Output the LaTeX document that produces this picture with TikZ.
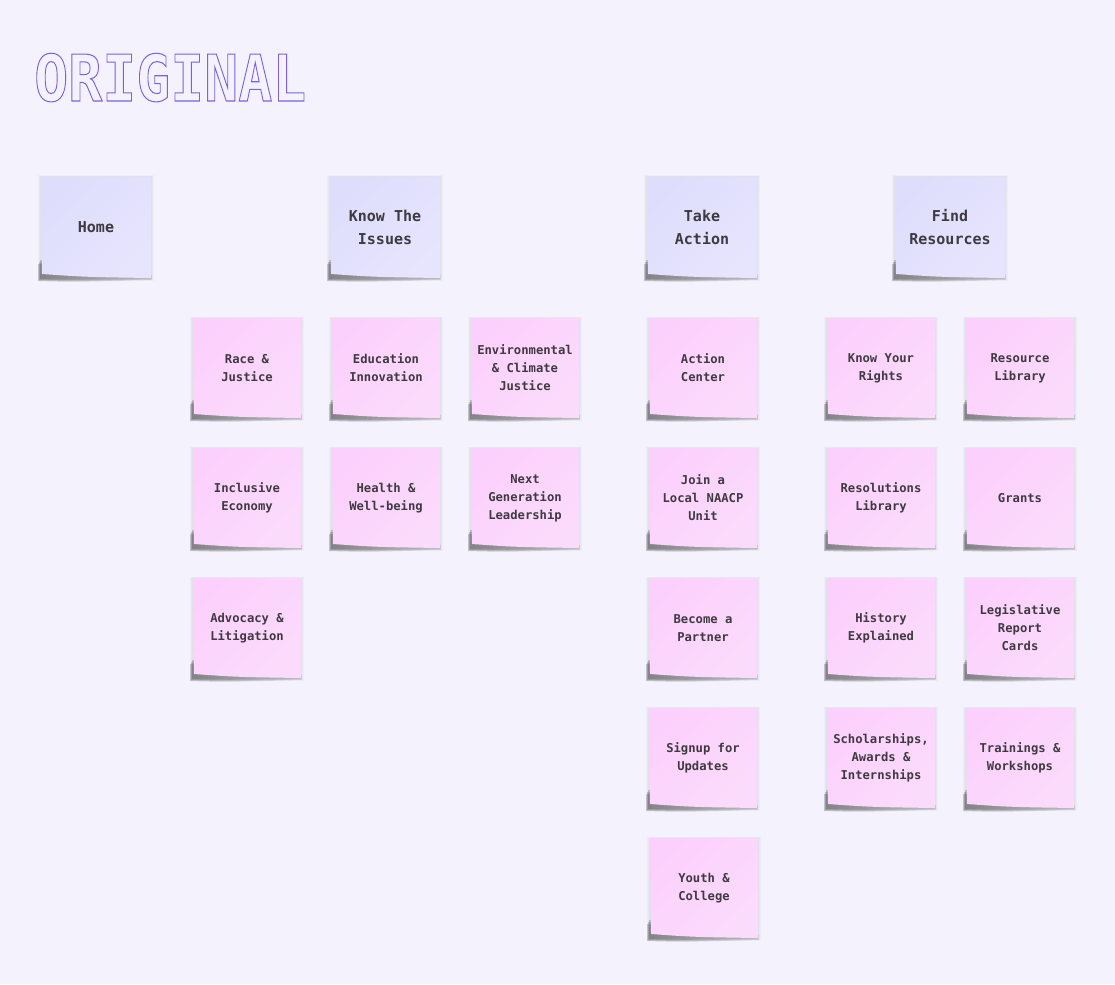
\documentclass[tikz,border=0pt]{standalone}
\usepackage{fontspec}
\usepackage{graphicx}
\setmonofont{DejaVu Sans Mono}
\newfontfamily\notefont{DejaVu Sans Mono}[Scale=1]
\definecolor{bgc}{HTML}{F4F2FD}
\definecolor{headfill}{HTML}{DEDDFC}
\definecolor{headfillB}{HTML}{E7E5FD}
\definecolor{pinkfill}{HTML}{FCD0FC}
\definecolor{pinkfillB}{HTML}{FBDBFC}
\definecolor{txt}{HTML}{3E3A40}
\definecolor{titlec}{HTML}{7E5FE0}
\tikzset{
  headtext/.style={font=\notefont\bfseries\fontsize{15}{23}\selectfont, text=txt, align=center, inner sep=0pt},
  pinktext/.style={font=\notefont\bfseries\fontsize{12.2}{18}\selectfont, text=txt, align=center, inner sep=0pt},
  headpaper/.style={left color=headfill, right color=headfillB, shading angle=45},
  pinkpaper/.style={left color=pinkfill, right color=pinkfillB, shading angle=45},
}
\newcommand\outlinetext[1]{\special{pdf:literal direct 1 Tr 0.9 w 0.494 0.373 0.878 RG}#1\special{pdf:literal direct 0 Tr}}
% #1 name, #2 x, #3 y, #4 w, #5 h, #6 paper style, #7 text style, #8 text
\newcommand\sticky[8]{%
  \foreach \gg in {1,2,3}{\fill[black, opacity=0.025] (#2-\gg,#3-\gg*0.5) rectangle (#2+#4+\gg,#3+#5+\gg);}
  \foreach \dd in {0,1,2}{%
  \shade[left color=black!75, right color=black!35, opacity=0.25]
     (#2-1-\dd,#3+#5-18+\dd*2) -- (#2-1-\dd,#3+#5+1+\dd) .. controls (#2+#4*0.3,#3+#5+2+\dd) .. (#2+#4+\dd*0.5,#3+#5+1+\dd*0.5)
     -- (#2+#4+\dd*0.5,#3+#5-3) -- cycle;}
  \path[#6] (#2,#3) -- (#2+#4,#3) -- (#2+#4,#3+#5) .. controls (#2+#4*0.4,#3+#5-1) .. (#2+1,#3+#5-4) -- cycle;
  \node[#7, minimum width=#4, minimum height=#5] (#1) at (#2+#4/2,#3+#5/2) {#8};
}
\begin{document}
\begin{tikzpicture}[x=1pt,y=-1pt]
\fill[bgc] (0,0) rectangle (1115,984);
\useasboundingbox (0,0) rectangle (1115,984);
% title
\node[anchor=base west, inner sep=0pt, text=titlec] (title) at (34,101)
  {\scalebox{1}[1.14]{\fontsize{56.5}{60}\selectfont\ttfamily\bfseries\outlinetext{ORIGINAL}}};
% headers
\sticky{home}{41}{177}{110}{101}{headpaper}{headtext}{Home}
\sticky{issues}{330}{177}{110}{101}{headpaper}{headtext}{Know The\\Issues}
\sticky{action}{647}{177}{110}{101}{headpaper}{headtext}{Take\\Action}
\sticky{resources}{895}{177}{110}{101}{headpaper}{headtext}{Find\\Resources}
% know the issues
\sticky{race}{193}{318}{108}{100}{pinkpaper}{pinktext}{Race \&\\Justice}
\sticky{edu}{332}{318}{108}{100}{pinkpaper}{pinktext}{Education\\Innovation}
\sticky{env}{471}{318}{108}{100}{pinkpaper}{pinktext}{Environmental\\\& Climate\\Justice}
\sticky{econ}{193}{448}{108}{100}{pinkpaper}{pinktext}{Inclusive\\Economy}
\sticky{health}{332}{448}{108}{100}{pinkpaper}{pinktext}{Health \&\\Well-being}
\sticky{nextgen}{471}{448}{108}{100}{pinkpaper}{pinktext}{Next\\Generation\\Leadership}
\sticky{advocacy}{193}{578}{108}{100}{pinkpaper}{pinktext}{Advocacy \&\\Litigation}
% take action
\sticky{center}{649}{318}{108}{100}{pinkpaper}{pinktext}{Action\\Center}
\sticky{join}{649}{448}{108}{100}{pinkpaper}{pinktext}{Join a\\Local NAACP\\Unit}
\sticky{partner}{649}{578}{108}{100}{pinkpaper}{pinktext}{Become a\\Partner}
\sticky{signup}{649}{708}{108}{100}{pinkpaper}{pinktext}{Signup for\\Updates}
\sticky{youth}{650}{838}{108}{100}{pinkpaper}{pinktext}{Youth \&\\College}
% find resources
\sticky{rights}{827}{318}{108}{100}{pinkpaper}{pinktext}{Know Your\\Rights}
\sticky{library}{966}{318}{108}{100}{pinkpaper}{pinktext}{Resource\\Library}
\sticky{resol}{827}{448}{108}{100}{pinkpaper}{pinktext}{Resolutions\\Library}
\sticky{grants}{966}{448}{108}{100}{pinkpaper}{pinktext}{Grants}
\sticky{history}{827}{578}{108}{100}{pinkpaper}{pinktext}{History\\Explained}
\sticky{legis}{966}{578}{108}{100}{pinkpaper}{pinktext}{Legislative\\Report\\Cards}
\sticky{schol}{827}{708}{108}{100}{pinkpaper}{pinktext}{Scholarships,\\Awards \&\\Internships}
\sticky{train}{966}{708}{108}{100}{pinkpaper}{pinktext}{Trainings \&\\Workshops}
\end{tikzpicture}
\end{document}
